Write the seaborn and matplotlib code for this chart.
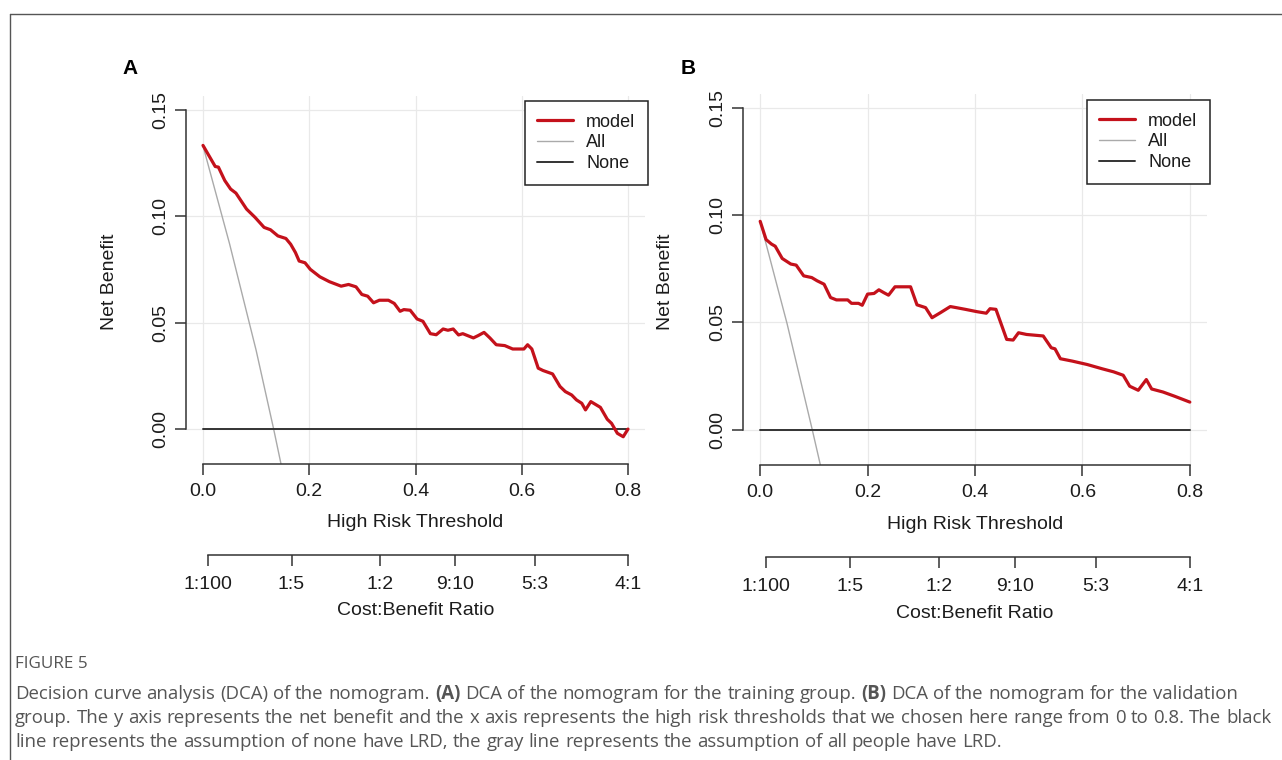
import matplotlib
matplotlib.use("Agg")
import matplotlib.pyplot as plt
import seaborn as sns
from matplotlib.lines import Line2D

# ---------------- data ----------------
thr_a = [0.0, 0.023, 0.029, 0.041, 0.052, 0.062, 0.082, 0.098, 0.115, 0.127, 0.141, 0.156,
         0.165, 0.174, 0.181, 0.192, 0.202, 0.220, 0.238, 0.260, 0.274, 0.288, 0.299, 0.310,
         0.321, 0.332, 0.349, 0.360, 0.371, 0.378, 0.390, 0.403, 0.414, 0.428, 0.439, 0.452,
         0.461, 0.471, 0.481, 0.489, 0.509, 0.518, 0.529, 0.540, 0.552, 0.568, 0.583, 0.604,
         0.611, 0.619, 0.631, 0.640, 0.658, 0.672, 0.682, 0.694, 0.703, 0.713, 0.720, 0.730,
         0.748, 0.761, 0.769, 0.780, 0.791, 0.800]
nb_a = [0.1332, 0.1233, 0.1230, 0.1167, 0.1127, 0.1108, 0.1033, 0.0994, 0.0947, 0.0936, 0.0907,
        0.0895, 0.0868, 0.0829, 0.0789, 0.0781, 0.0750, 0.0715, 0.0692, 0.0671, 0.0679, 0.0668,
        0.0632, 0.0624, 0.0593, 0.0605, 0.0605, 0.0590, 0.0553, 0.0561, 0.0558, 0.0517, 0.0506,
        0.0448, 0.0443, 0.0470, 0.0464, 0.0470, 0.0442, 0.0448, 0.0428, 0.0439, 0.0454, 0.0428,
        0.0396, 0.0392, 0.0376, 0.0376, 0.0396, 0.0376, 0.0286, 0.0275, 0.0259, 0.0200, 0.0176,
        0.0160, 0.0137, 0.0121, 0.0090, 0.0129, 0.0102, 0.0046, 0.0027, -0.0020, -0.0036, 0.0]
all_thr_a = [0.0, 0.05, 0.10, 0.133, 0.16]
all_nb_a = [0.133, 0.087, 0.037, 0.0, -0.032]

thr_b = [0.0, 0.011, 0.021, 0.028, 0.041, 0.057, 0.067, 0.081, 0.096, 0.106, 0.119, 0.131,
         0.142, 0.163, 0.170, 0.183, 0.190, 0.200, 0.212, 0.221, 0.230, 0.239, 0.251, 0.280,
         0.292, 0.308, 0.320, 0.336, 0.354, 0.365, 0.382, 0.404, 0.421, 0.428, 0.439, 0.459,
         0.471, 0.481, 0.496, 0.527, 0.542, 0.549, 0.559, 0.581, 0.609, 0.637, 0.658, 0.676,
         0.688, 0.704, 0.719, 0.729, 0.750, 0.772, 0.800]
nb_b = [0.0971, 0.0886, 0.0865, 0.0855, 0.0798, 0.0772, 0.0767, 0.0717, 0.0709, 0.0694, 0.0678,
        0.0616, 0.0605, 0.0605, 0.0589, 0.0589, 0.0580, 0.0632, 0.0635, 0.0652, 0.0639, 0.0627,
        0.0666, 0.0666, 0.0582, 0.0569, 0.0522, 0.0546, 0.0574, 0.0569, 0.0561, 0.0550, 0.0543,
        0.0564, 0.0561, 0.0421, 0.0418, 0.0452, 0.0444, 0.0437, 0.0382, 0.0377, 0.0331, 0.0320,
        0.0304, 0.0284, 0.0270, 0.0254, 0.0203, 0.0184, 0.0234, 0.0190, 0.0176, 0.0156, 0.0129]
all_thr_b = [0.0, 0.05, 0.097, 0.12]
all_nb_b = [0.097, 0.0495, 0.0, -0.025]

none_thr = [0.0, 0.8]
none_nb = [0.0, 0.0]

threshold_ticks = [0.0, 0.2, 0.4, 0.6, 0.8]
threshold_labels = ["0.0", "0.2", "0.4", "0.6", "0.8"]
nb_ticks = [0.0, 0.05, 0.10, 0.15]
nb_labels = ["0.00", "0.05", "0.10", "0.15"]
ratio_cost = [1, 1, 1, 9, 5, 4]
ratio_benefit = [100, 5, 2, 10, 3, 1]
ratio_labels = [f"{c}:{b}" for c, b in zip(ratio_cost, ratio_benefit)]
ratio_ticks = [c / (c + b) for c, b in zip(ratio_cost, ratio_benefit)]

legend_labels = ["model", "All", "None"]

caption_title = "FIGURE 5"
caption_lines = [
    [("Decision curve analysis (DCA) of the nomogram.", "normal"), ("(A)", "bold"),
     ("DCA of the nomogram for the training group.", "normal"), ("(B)", "bold"),
     ("DCA of the nomogram for the validation", "normal")],
    [("group. The y axis represents the net benefit and the x axis represents the high risk thresholds that we chosen here range from 0 to 0.8. The black", "normal")],
    [("line represents the assumption of none have LRD, the gray line represents the assumption of all people have LRD.", "normal")],
]

# ---------------- style ----------------
sns.set_theme(style="white")
plt.rcParams["font.family"] = ["Liberation Sans", "DejaVu Sans"]

W, H = 1282, 760
fig = plt.figure(figsize=(W / 100, H / 100), dpi=100)
fig.patch.set_facecolor("white")

RED = "#c4111b"
GREY_ALL = "#aaaaaa"
DARK = "#333333"
TXT = "#1c1c1c"
FS = 14
LFS = 13


def fx(px):
    return px / W


def fy(py):
    return 1 - py / H


def panel(left_px, right_px, top_px, bottom_px, ratio_px, thr, nb, athr, anb,
          letter, letter_xy, leg_xy, ylab_x, xlab_y, rlab_y):
    ax = fig.add_axes([fx(left_px), fy(bottom_px), (right_px - left_px) / W,
                       (bottom_px - top_px) / H])
    ax.set_xlim(-0.032, 0.832)
    ax.set_ylim(-0.0164, 0.1564)
    ax.grid(True, color="#e9e9e9", lw=0.9)
    ax.set_axisbelow(True)

    sns.lineplot(x=athr, y=anb, ax=ax, color=GREY_ALL, lw=1.0, label=legend_labels[1],
                 estimator=None, sort=False, zorder=2)
    sns.lineplot(x=none_thr, y=none_nb, ax=ax, color=DARK, lw=1.4, label=legend_labels[2],
                 estimator=None, sort=False, zorder=3)
    sns.lineplot(x=thr, y=nb, ax=ax, color=RED, lw=2.3, label=legend_labels[0],
                 estimator=None, sort=False, zorder=4)

    ax.set_xticks(threshold_ticks)
    ax.set_xticklabels(threshold_labels)
    ax.set_yticks(nb_ticks)
    ax.set_yticklabels(nb_labels)
    for s in ["top", "right"]:
        ax.spines[s].set_visible(False)
    for s in ["left", "bottom"]:
        ax.spines[s].set_color(DARK)
        ax.spines[s].set_linewidth(1.1)
    ax.spines["left"].set_bounds(0, 0.15)
    ax.spines["bottom"].set_bounds(0, 0.8)
    ax.tick_params(axis="both", direction="out", length=8, width=1.1, color=DARK,
                   labelsize=FS, labelcolor=TXT, bottom=True, left=True)
    ax.tick_params(axis="x", pad=6)
    ax.tick_params(axis="y", pad=4)
    for lab in ax.get_yticklabels():
        lab.set_rotation(90)
        lab.set_va("center")

    ax.set_xlabel("High Risk Threshold", fontsize=FS, color=TXT)
    ax.xaxis.set_label_coords(fx((left_px + right_px) / 2), fy(xlab_y), transform=fig.transFigure)
    ax.set_ylabel("Net Benefit", fontsize=FS, color=TXT)
    ax.yaxis.set_label_coords(fx(ylab_x), fy((top_px + bottom_px) / 2 + 2), transform=fig.transFigure)

    handles, labels = ax.get_legend_handles_labels()
    order = [labels.index(l) for l in legend_labels]
    leg = ax.legend([handles[i] for i in order], [labels[i] for i in order],
                    loc="upper right", bbox_to_anchor=(fx(leg_xy[0]), fy(leg_xy[1])),
                    bbox_transform=fig.transFigure, borderaxespad=0, frameon=True,
                    fancybox=False, framealpha=1, edgecolor="#222222", fontsize=LFS,
                    handlelength=2.0, handletextpad=0.7, labelspacing=0.2, borderpad=0.7)
    leg.get_frame().set_linewidth(1.1)
    for t in leg.get_texts():
        t.set_color(TXT)

    # Cost:Benefit axis
    ax2 = fig.add_axes([fx(left_px), fy(ratio_px), (right_px - left_px) / W, 0.0001])
    ax2.set_xlim(ax.get_xlim())
    ax2.patch.set_visible(False)
    for s in ["top", "left", "right"]:
        ax2.spines[s].set_visible(False)
    ax2.spines["bottom"].set_color(DARK)
    ax2.spines["bottom"].set_linewidth(1.1)
    ax2.spines["bottom"].set_bounds(ratio_ticks[0], ratio_ticks[-1])
    ax2.set_yticks([])
    ax2.set_xticks(ratio_ticks)
    ax2.set_xticklabels(ratio_labels)
    ax2.tick_params(axis="x", direction="out", length=8, width=1.1, color=DARK,
                    labelsize=FS, labelcolor=TXT, bottom=True, pad=7)
    ax2.set_xlabel("Cost:Benefit Ratio", fontsize=FS, color=TXT)
    ax2.xaxis.set_label_coords(fx((left_px + right_px) / 2), fy(rlab_y), transform=fig.transFigure)

    fig.text(fx(letter_xy[0]), fy(letter_xy[1]), letter, fontsize=15, fontweight="bold",
             ha="center", va="center", color="black")
    return ax


panel(186, 645, 96, 464, 555, thr_a, nb_a, all_thr_a, all_nb_a,
      "A", (130, 69), (648, 101), 118, 514, 602)
panel(743, 1207, 94, 465, 557, thr_b, nb_b, all_thr_b, all_nb_b,
      "B", (688, 69), (1210, 100), 674, 516, 605)

# ---------------- frame ----------------
fig.add_artist(Line2D([fx(10), fx(10)], [fy(14), 0], transform=fig.transFigure,
                      color="#555555", lw=1.0))
fig.add_artist(Line2D([fx(10), 1], [fy(14), fy(14)], transform=fig.transFigure,
                      color="#555555", lw=1.0))

# ---------------- caption ----------------
renderer = fig.canvas.get_renderer()
CAP_FONT = ["Open Sans", "DejaVu Sans"]
CAP_COL = "#555555"


def measure(s, size, weight="normal"):
    t = fig.text(0, 0, s, fontsize=size, fontweight=weight, family=CAP_FONT)
    w = t.get_window_extent(renderer).width
    t.remove()
    return w


def words_of(segs):
    out = []
    for s, w in segs:
        out += [(word, w) for word in s.split(" ")]
    return out


def natural_width(segs, size):
    ws = words_of(segs)
    sp = measure("a a", size) - measure("aa", size)
    return sum(measure(t, size, w) for t, w in ws) + sp * (len(ws) - 1)


def draw_line(segs, x0, base_y, size):
    ws = words_of(segs)
    gap = measure("a a", size) - measure("aa", size)
    x = x0
    for t, w in ws:
        txt = fig.text(fx(x), fy(base_y), t, fontsize=size, fontweight=w, family=CAP_FONT,
                       color=CAP_COL, ha="left", va="baseline")
        x += txt.get_window_extent(renderer).width + gap


targets = [1242 - 15, 1264 - 15, 999 - 15]
scales = [tg / natural_width(segs, 12) for tg, segs in zip(targets, caption_lines)]
cap_size = 12 * min(scales)
tw = measure(caption_title, 9)
title_size = 9 * 73 / tw
fig.text(fx(15), fy(668), caption_title, fontsize=title_size, family=CAP_FONT,
         color=CAP_COL, ha="left", va="baseline")
for i, segs in enumerate(caption_lines):
    draw_line(segs, 15, 699 + 24 * i, cap_size)

fig.savefig("out.png", dpi=100, facecolor="white")
